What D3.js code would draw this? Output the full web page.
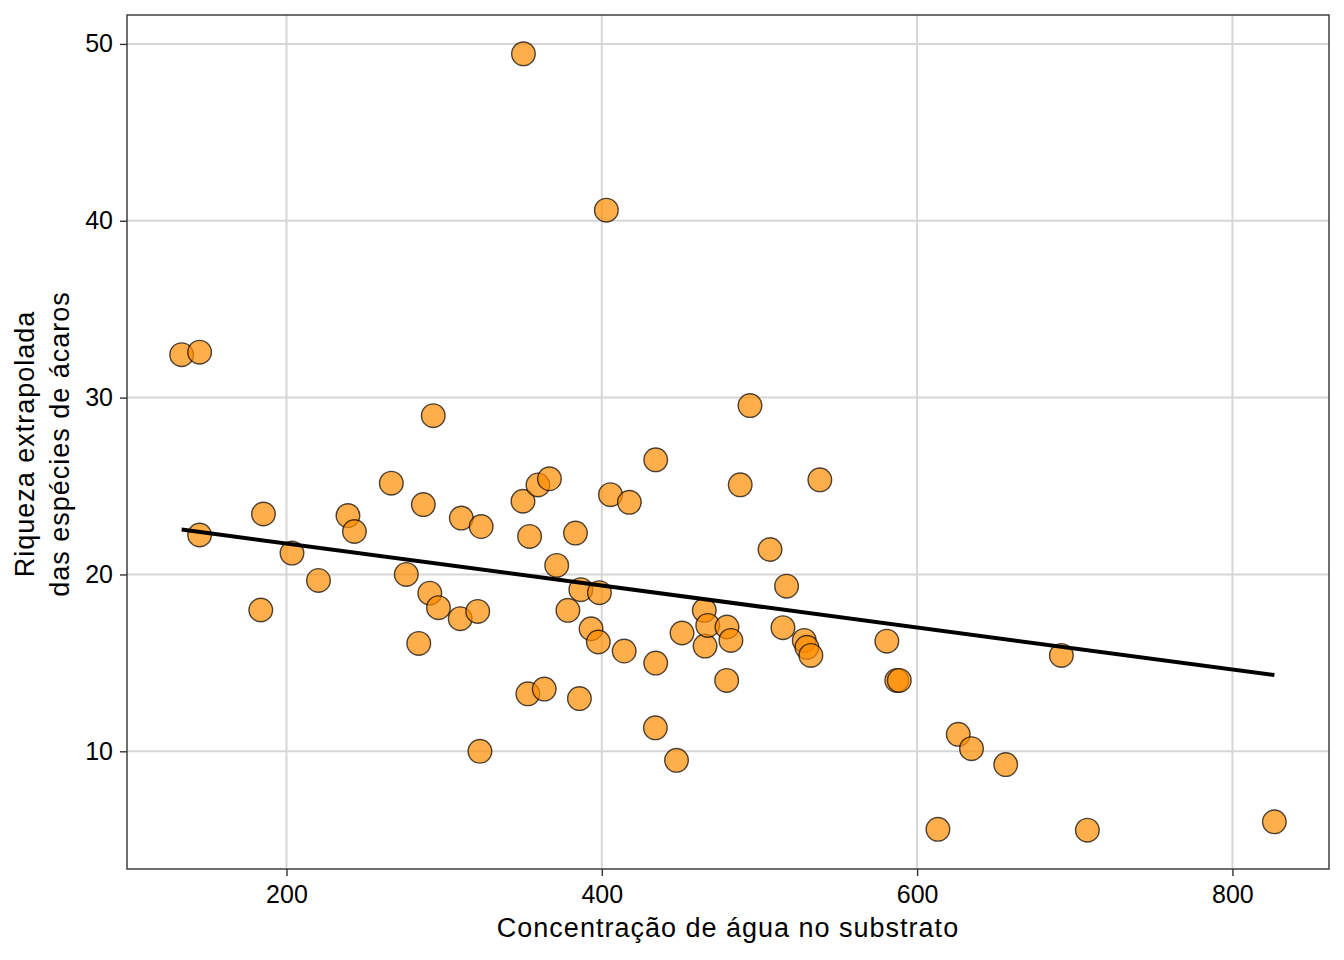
<!DOCTYPE html>
<html>
<head>
<meta charset="utf-8">
<script src="https://cdn.jsdelivr.net/npm/d3@7"></script>
<style>
  html, body { margin: 0; padding: 0; background: #fff; }
  svg { display: block; }
  text { font-family: "Liberation Sans", Arial, Helvetica, sans-serif; }
</style>
</head>
<body>
<svg id="chart" width="1344" height="960"></svg>
<script>
// Concentração de água no substrato (x) vs riqueza extrapolada (y)
const agua = [133.5,144.9,144.9,183.7,185.4,203.5,220.3,239.0,243.1,266.5,
  276.0,283.9,286.8,290.9,293.1,296.4,310.9,310.2,321.3,323.5,
  322.7,350.0,350.3,353.1,354.2,359.5,363.5,366.8,371.4,378.5,
  383.3,385.8,386.7,393.2,398.5,397.8,402.9,405.5,414.2,417.5,
  434.2,434.2,434.0,447.4,450.9,465.0,465.5,467.2,479.4,479.2,
  481.9,487.8,494.0,506.7,514.9,517.2,528.4,530.1,532.6,538.3,
  580.8,587.1,588.7,626.1,634.5,656.2,613.2,691.5,708.0,826.6];
const riqueza = [32.43,32.57,22.23,17.99,23.42,21.21,19.66,23.33,22.43,25.16,
  20.00,16.10,23.95,18.94,28.98,18.12,23.19,17.50,17.91,22.71,
  10.00,24.14,49.44,13.25,22.15,25.06,13.52,25.41,20.51,17.97,
  22.34,12.98,19.14,16.93,18.97,16.18,40.60,24.51,15.67,24.08,
  26.48,14.99,11.33,9.49,16.69,17.97,15.95,17.12,17.03,14.01,
  16.27,25.07,29.55,21.41,16.99,19.34,16.27,15.88,15.42,25.35,
  16.23,14.01,14.01,10.96,10.15,9.25,5.59,15.42,5.54,6.01];
// fitted model line (endpoints)
const fitX = [133.5, 826.6];
const fitY = [22.54, 14.31];
const xTicks = [200, 400, 600, 800];
const yTicks = [10, 20, 30, 40, 50];
const xTitle = "Concentração de água no substrato";
const yTitle = ["Riqueza extrapolada", "das espécies de ácaros"];

const svg = d3.select("#chart");
const m = {left: 127, right: 1329, top: 15, bottom: 869};

const xExt = d3.extent(agua), yExt = d3.extent(riqueza);
const xPad = (xExt[1] - xExt[0]) * 0.05, yPad = (yExt[1] - yExt[0]) * 0.05;
const x = d3.scaleLinear().domain([xExt[0] - xPad, xExt[1] + xPad]).range([m.left, m.right]);
const y = d3.scaleLinear().domain([yExt[0] - yPad, yExt[1] + yPad]).range([m.bottom, m.top]);

// grid
const g = svg.append("g");
g.selectAll("line.gx").data(xTicks).join("line")
  .attr("x1", d => x(d)).attr("x2", d => x(d))
  .attr("y1", m.top).attr("y2", m.bottom)
  .attr("stroke", "#d6d6d6").attr("stroke-width", 2);
g.selectAll("line.gy").data(yTicks).join("line")
  .attr("y1", d => y(d)).attr("y2", d => y(d))
  .attr("x1", m.left).attr("x2", m.right)
  .attr("stroke", "#d6d6d6").attr("stroke-width", 2);

// points
svg.append("g").selectAll("circle").data(agua.map((v, i) => [v, riqueza[i]])).join("circle")
  .attr("cx", d => x(d[0])).attr("cy", d => y(d[1])).attr("r", 11.8)
  .attr("fill", "darkorange").attr("fill-opacity", 0.7)
  .attr("stroke", "black").attr("stroke-opacity", 0.7).attr("stroke-width", 1.4);

// fitted line
svg.append("path").datum(fitX.map((v, i) => [v, fitY[i]]))
  .attr("d", d3.line().x(d => x(d[0])).y(d => y(d[1])))
  .attr("stroke", "black").attr("stroke-width", 4).attr("fill", "none");

// panel border
svg.append("rect").attr("x", m.left).attr("y", m.top)
  .attr("width", m.right - m.left).attr("height", m.bottom - m.top)
  .attr("fill", "none").attr("stroke", "#333").attr("stroke-width", 1.4);

// axes
const xAxis = svg.append("g").attr("transform", `translate(0,${m.bottom})`)
  .call(d3.axisBottom(x).tickValues(xTicks).tickSize(7).tickPadding(9));
const yAxis = svg.append("g").attr("transform", `translate(${m.left},0)`)
  .call(d3.axisLeft(y).tickValues(yTicks).tickSize(7).tickPadding(7));
[xAxis, yAxis].forEach(ax => {
  ax.select(".domain").remove();
  ax.selectAll(".tick line").attr("stroke", "#333").attr("stroke-width", 1.4);
  ax.selectAll(".tick text").attr("fill", "#000").style("font-size", "25px")
    .style("font-family", '"Liberation Sans", Arial, sans-serif');
});

svg.append("text").attr("x", (m.left + m.right) / 2).attr("y", 937)
  .attr("text-anchor", "middle").style("font-size", "27px").style("letter-spacing", "1px").text(xTitle);

const yt = svg.append("text").attr("transform", `translate(34,${(m.top + m.bottom) / 2 + 2}) rotate(-90)`)
  .attr("text-anchor", "middle").style("font-size", "27px").style("letter-spacing", "1px");
yTitle.forEach((t, i) => yt.append("tspan").attr("x", 0).attr("dy", i === 0 ? 0 : 35).text(t));
</script>
</body>
</html>
